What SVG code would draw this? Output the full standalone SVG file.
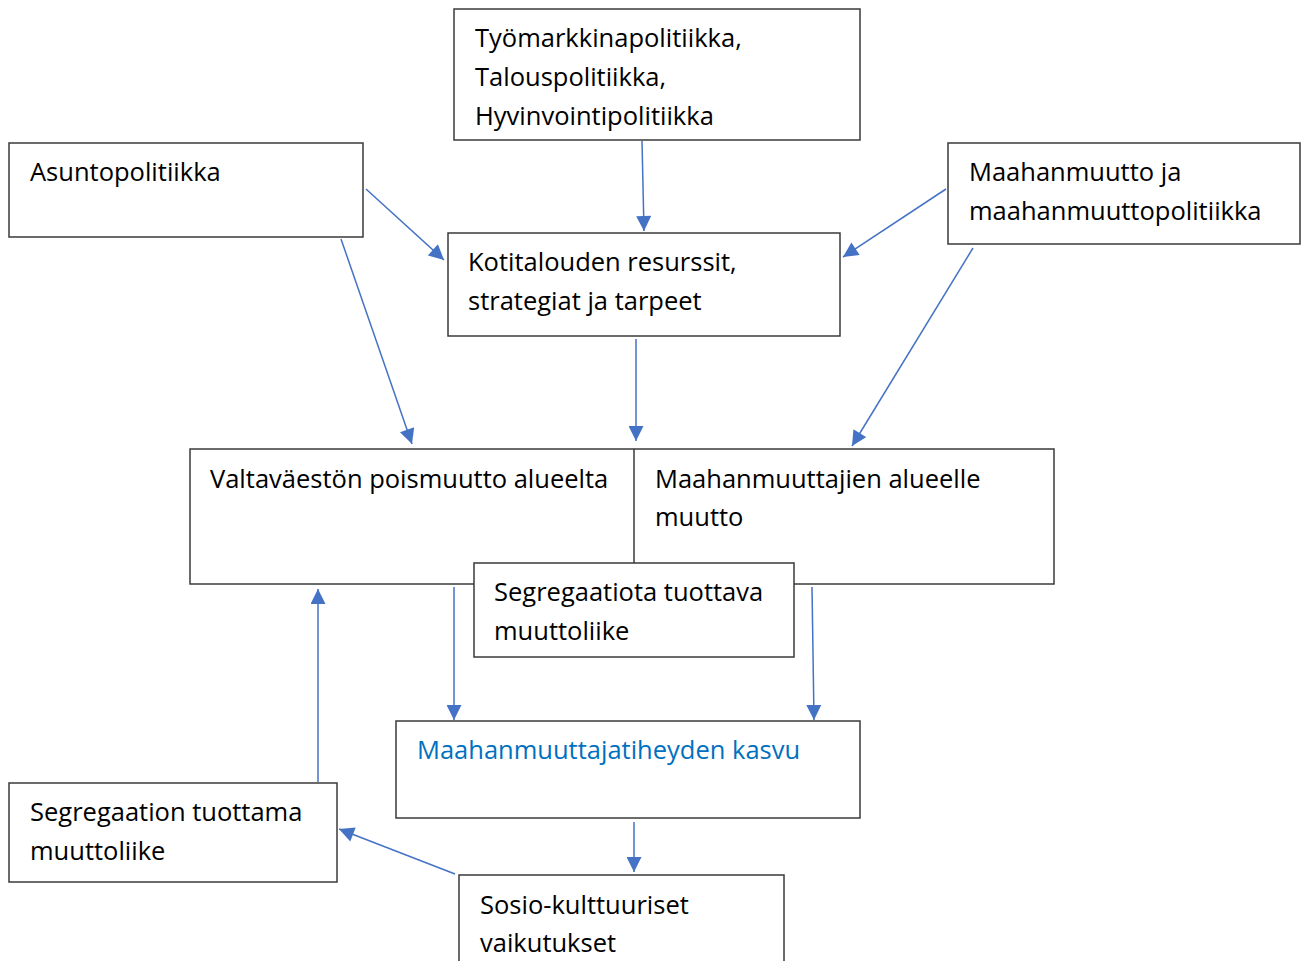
<svg xmlns="http://www.w3.org/2000/svg" width="1301" height="961" viewBox="0 0 1301 961">
<style>
.box{fill:#fff;stroke:#3a3a3a;stroke-width:1.5}
.t{font-family:"Open Sans","Liberation Sans",sans-serif;font-size:25.5px;fill:#000}
.blue{fill:#0070C0}
.c{stroke:#4472C4;stroke-width:1.5;fill:none;marker-end:url(#ah)}
</style>
<defs>
<marker id="ah" viewBox="0 0 10 10" refX="10" refY="5" markerUnits="userSpaceOnUse" markerWidth="16" markerHeight="15" orient="auto">
<path d="M0,0 L10,5 L0,10 z" fill="#4472C4"/>
</marker>
</defs>
<rect width="1301" height="961" fill="#fff"/>
<g id="n-tyomarkkina">
<rect class="box" x="454" y="9" width="406" height="131"/>
<text class="t" x="475" y="47">Työmarkkinapolitiikka,</text>
<text class="t" x="475" y="86">Talouspolitiikka,</text>
<text class="t" x="475" y="125">Hyvinvointipolitiikka</text>
</g>
<g id="n-asunto">
<rect class="box" x="9" y="143" width="354" height="94"/>
<text class="t" x="30" y="181">Asuntopolitiikka</text>
</g>
<g id="n-maahanmuutto">
<rect class="box" x="948" y="143" width="352" height="101"/>
<text class="t" x="969" y="181">Maahanmuutto ja</text>
<text class="t" x="969" y="220">maahanmuuttopolitiikka</text>
</g>
<g id="n-kotitalous">
<rect class="box" x="448" y="233" width="392" height="103"/>
<text class="t" x="468" y="271">Kotitalouden resurssit,</text>
<text class="t" x="468" y="310">strategiat ja tarpeet</text>
</g>
<g id="n-muutto">
<rect class="box" x="190" y="449" width="864" height="135"/>
<line x1="634" y1="449" x2="634" y2="563" stroke="#3a3a3a" stroke-width="1.5"/>
<text class="t" x="210" y="488">Valtaväestön poismuutto alueelta</text>
<text class="t" x="655" y="488">Maahanmuuttajien alueelle</text>
<text class="t" x="655" y="526">muutto</text>
</g>
<g id="n-segregaatiota">
<rect class="box" x="474" y="563" width="320" height="94"/>
<text class="t" x="494" y="601">Segregaatiota tuottava</text>
<text class="t" x="494" y="640">muuttoliike</text>
</g>
<g id="n-tiheys">
<rect class="box" x="396" y="721" width="464" height="97"/>
<text class="t blue" x="417" y="759">Maahanmuuttajatiheyden kasvu</text>
</g>
<g id="n-segregaation">
<rect class="box" x="9" y="783" width="328" height="99"/>
<text class="t" x="30" y="821">Segregaation tuottama</text>
<text class="t" x="30" y="860">muuttoliike</text>
</g>
<g id="n-sosio">
<rect class="box" x="459" y="875" width="325" height="100"/>
<text class="t" x="480" y="914">Sosio-kulttuuriset</text>
<text class="t" x="480" y="952">vaikutukset</text>
</g>
<g id="connectors">
<line class="c" x1="642" y1="141" x2="644" y2="231"/>
<line class="c" x1="366" y1="189" x2="444" y2="260"/>
<line class="c" x1="946" y1="189" x2="843" y2="257"/>
<line class="c" x1="341" y1="239" x2="412" y2="444"/>
<line class="c" x1="636" y1="339" x2="636" y2="441"/>
<line class="c" x1="973" y1="248" x2="852" y2="446"/>
<line class="c" x1="454" y1="587" x2="454" y2="720"/>
<line class="c" x1="812" y1="587" x2="814" y2="720"/>
<line class="c" x1="318" y1="782" x2="318" y2="589"/>
<line class="c" x1="634" y1="822" x2="634" y2="872"/>
<line class="c" x1="455" y1="874" x2="339" y2="829"/>
</g>
</svg>
